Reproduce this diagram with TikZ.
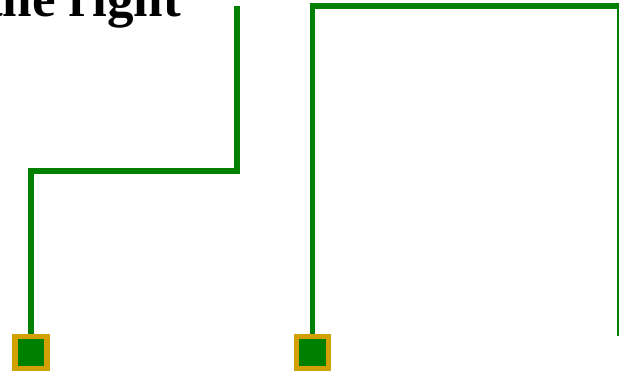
\documentclass[tikz,border=0pt]{standalone}
\usepackage{fontspec}
\setmainfont{Liberation Serif}
\definecolor{wiregreen}{RGB}{0,128,0}
\definecolor{pingold}{RGB}{210,160,0}
\begin{document}
\begin{tikzpicture}[
  x=1pt, y=-1pt,
  wire/.style={draw=wiregreen, line width=5.6pt},
  pin/.style={draw=pingold, fill=wiregreen, line width=5.4pt,
              minimum size=32pt, inner sep=0pt},
  ttl/.style={font=\fontsize{53}{60}\selectfont\bfseries, inner sep=0pt},
]
\useasboundingbox (0,0) rectangle (619,374);

\node[ttl, anchor=base east] (title) at (181,17) {the right};

\coordinate (bend1) at (237,171);
\coordinate (top1)  at (237,6);
\coordinate (top2)  at (620,6);
\coordinate (bot2)  at (620,336);

\node[pin] (pinA) at (31,352.5) {};
\node[pin] (pinB) at (312.5,352.5) {};

\draw[wire] (pinA.north) |- (bend1) -- (top1);
\draw[wire] (pinB.north) |- (top2) -- (bot2);

% pins on top of the wires
\node[pin] at (pinA) {};
\node[pin] at (pinB) {};
\end{tikzpicture}
\end{document}
